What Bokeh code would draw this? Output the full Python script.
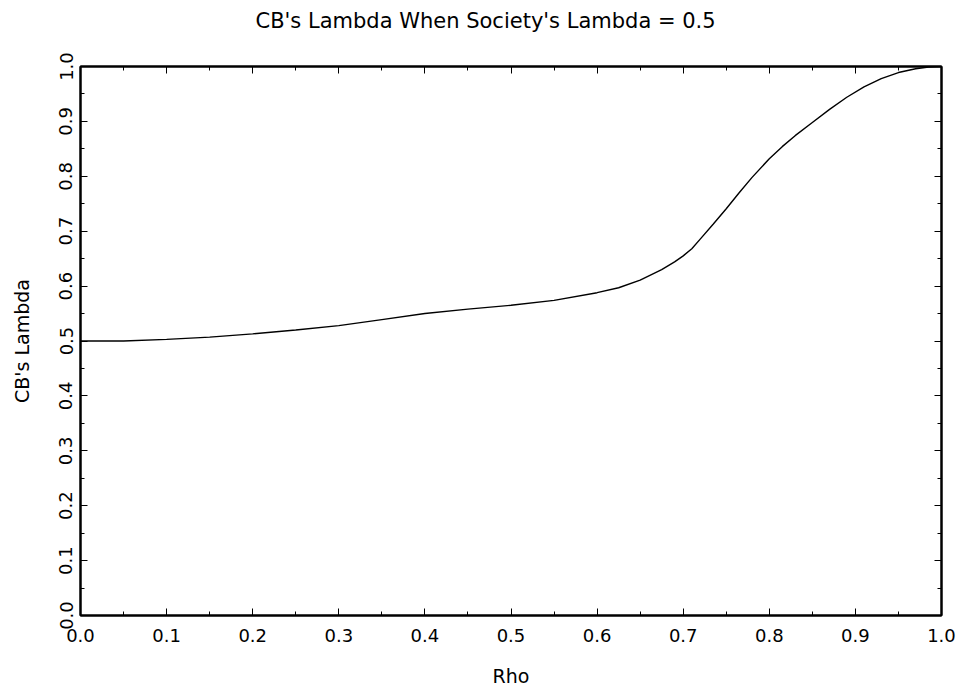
from bokeh.plotting import figure
from bokeh.models import Range1d, LinearAxis, FixedTicker, Title
from bokeh.embed import file_html
from bokeh.resources import INLINE

# ---- data ----
rho = [0.00, 0.05, 0.10, 0.15, 0.20, 0.25, 0.30, 0.35, 0.40, 0.45,
       0.50, 0.55, 0.60, 0.625, 0.65, 0.675, 0.69, 0.70, 0.71, 0.72,
       0.735, 0.75, 0.765, 0.78, 0.80, 0.815, 0.83, 0.85, 0.87, 0.89,
       0.91, 0.93, 0.95, 0.97, 0.985, 1.00]
cb_lambda = [0.500, 0.500, 0.503, 0.507, 0.513, 0.520, 0.528, 0.539, 0.550, 0.558,
             0.565, 0.574, 0.588, 0.597, 0.611, 0.630, 0.644, 0.655, 0.668, 0.686,
             0.713, 0.741, 0.770, 0.798, 0.832, 0.854, 0.874, 0.898, 0.922, 0.944,
             0.963, 0.978, 0.989, 0.996, 0.999, 1.000]

major_ticks = [0.0, 0.1, 0.2, 0.3, 0.4, 0.5, 0.6, 0.7, 0.8, 0.9, 1.0]
minor_ticks = [0.05, 0.15, 0.25, 0.35, 0.45, 0.55, 0.65, 0.75, 0.85, 0.95]
tick_labels = ["0.0", "0.1", "0.2", "0.3", "0.4", "0.5", "0.6", "0.7", "0.8", "0.9", "1.0"]

title_text = "CB's Lambda When Society's Lambda = 0.5"
x_title = "Rho"
y_title = "CB's Lambda"

FONT = "DejaVu Sans"

p = figure(width=960, height=690, output_backend="svg", toolbar_location=None,
           x_range=Range1d(0, 1), y_range=Range1d(0, 1),
           x_axis_location=None, y_axis_location=None,
           min_border_left=80, min_border_right=19, min_border_top=66, min_border_bottom=75)
p.grid.visible = False
p.outline_line_color = "black"
p.outline_line_width = 2
p.background_fill_color = "white"
p.border_fill_color = "white"

labels_map = {t: l for t, l in zip(major_ticks, tick_labels)}
empty_map = {t: "" for t in major_ticks}


def make_axis(show_labels, title=None):
    ax = LinearAxis(ticker=FixedTicker(ticks=major_ticks, minor_ticks=minor_ticks))
    ax.major_tick_in = 7
    ax.major_tick_out = 0
    ax.minor_tick_in = 4
    ax.minor_tick_out = 0
    ax.major_tick_line_color = "black"
    ax.minor_tick_line_color = "black"
    ax.major_tick_line_width = 1
    ax.minor_tick_line_width = 1
    ax.axis_line_color = "black"
    ax.axis_line_width = 2
    ax.major_label_text_font = FONT
    ax.major_label_text_font_size = "18px"
    ax.major_label_text_color = "black"
    if show_labels:
        ax.major_label_overrides = labels_map
    else:
        ax.major_label_overrides = empty_map
        ax.major_label_standoff = 0
    if title:
        ax.axis_label = title
        ax.axis_label_text_font = FONT
        ax.axis_label_text_font_size = "19px"
        ax.axis_label_text_font_style = "normal"
        ax.axis_label_text_color = "black"
    return ax


xb = make_axis(True, x_title)
xb.major_label_standoff = 13
xb.axis_label_standoff = 20
p.add_layout(xb, "below")

yl = make_axis(True, y_title)
yl.major_label_orientation = "parallel"
yl.major_label_standoff = 8
yl.axis_label_standoff = 24
p.add_layout(yl, "left")

xt = make_axis(False)
p.add_layout(xt, "above")

yr = make_axis(False)
p.add_layout(yr, "right")

t = Title(text=title_text, align="left", text_font=FONT, text_font_size="21px",
          text_font_style="normal", text_color="black", standoff=0, offset=175,
          padding=dict(left=0, right=0, top=0, bottom=34))
p.add_layout(t, "above")

p.line(rho, cb_lambda, line_color="black", line_width=1.4)

open("out.html", "w").write(file_html(p, INLINE))
